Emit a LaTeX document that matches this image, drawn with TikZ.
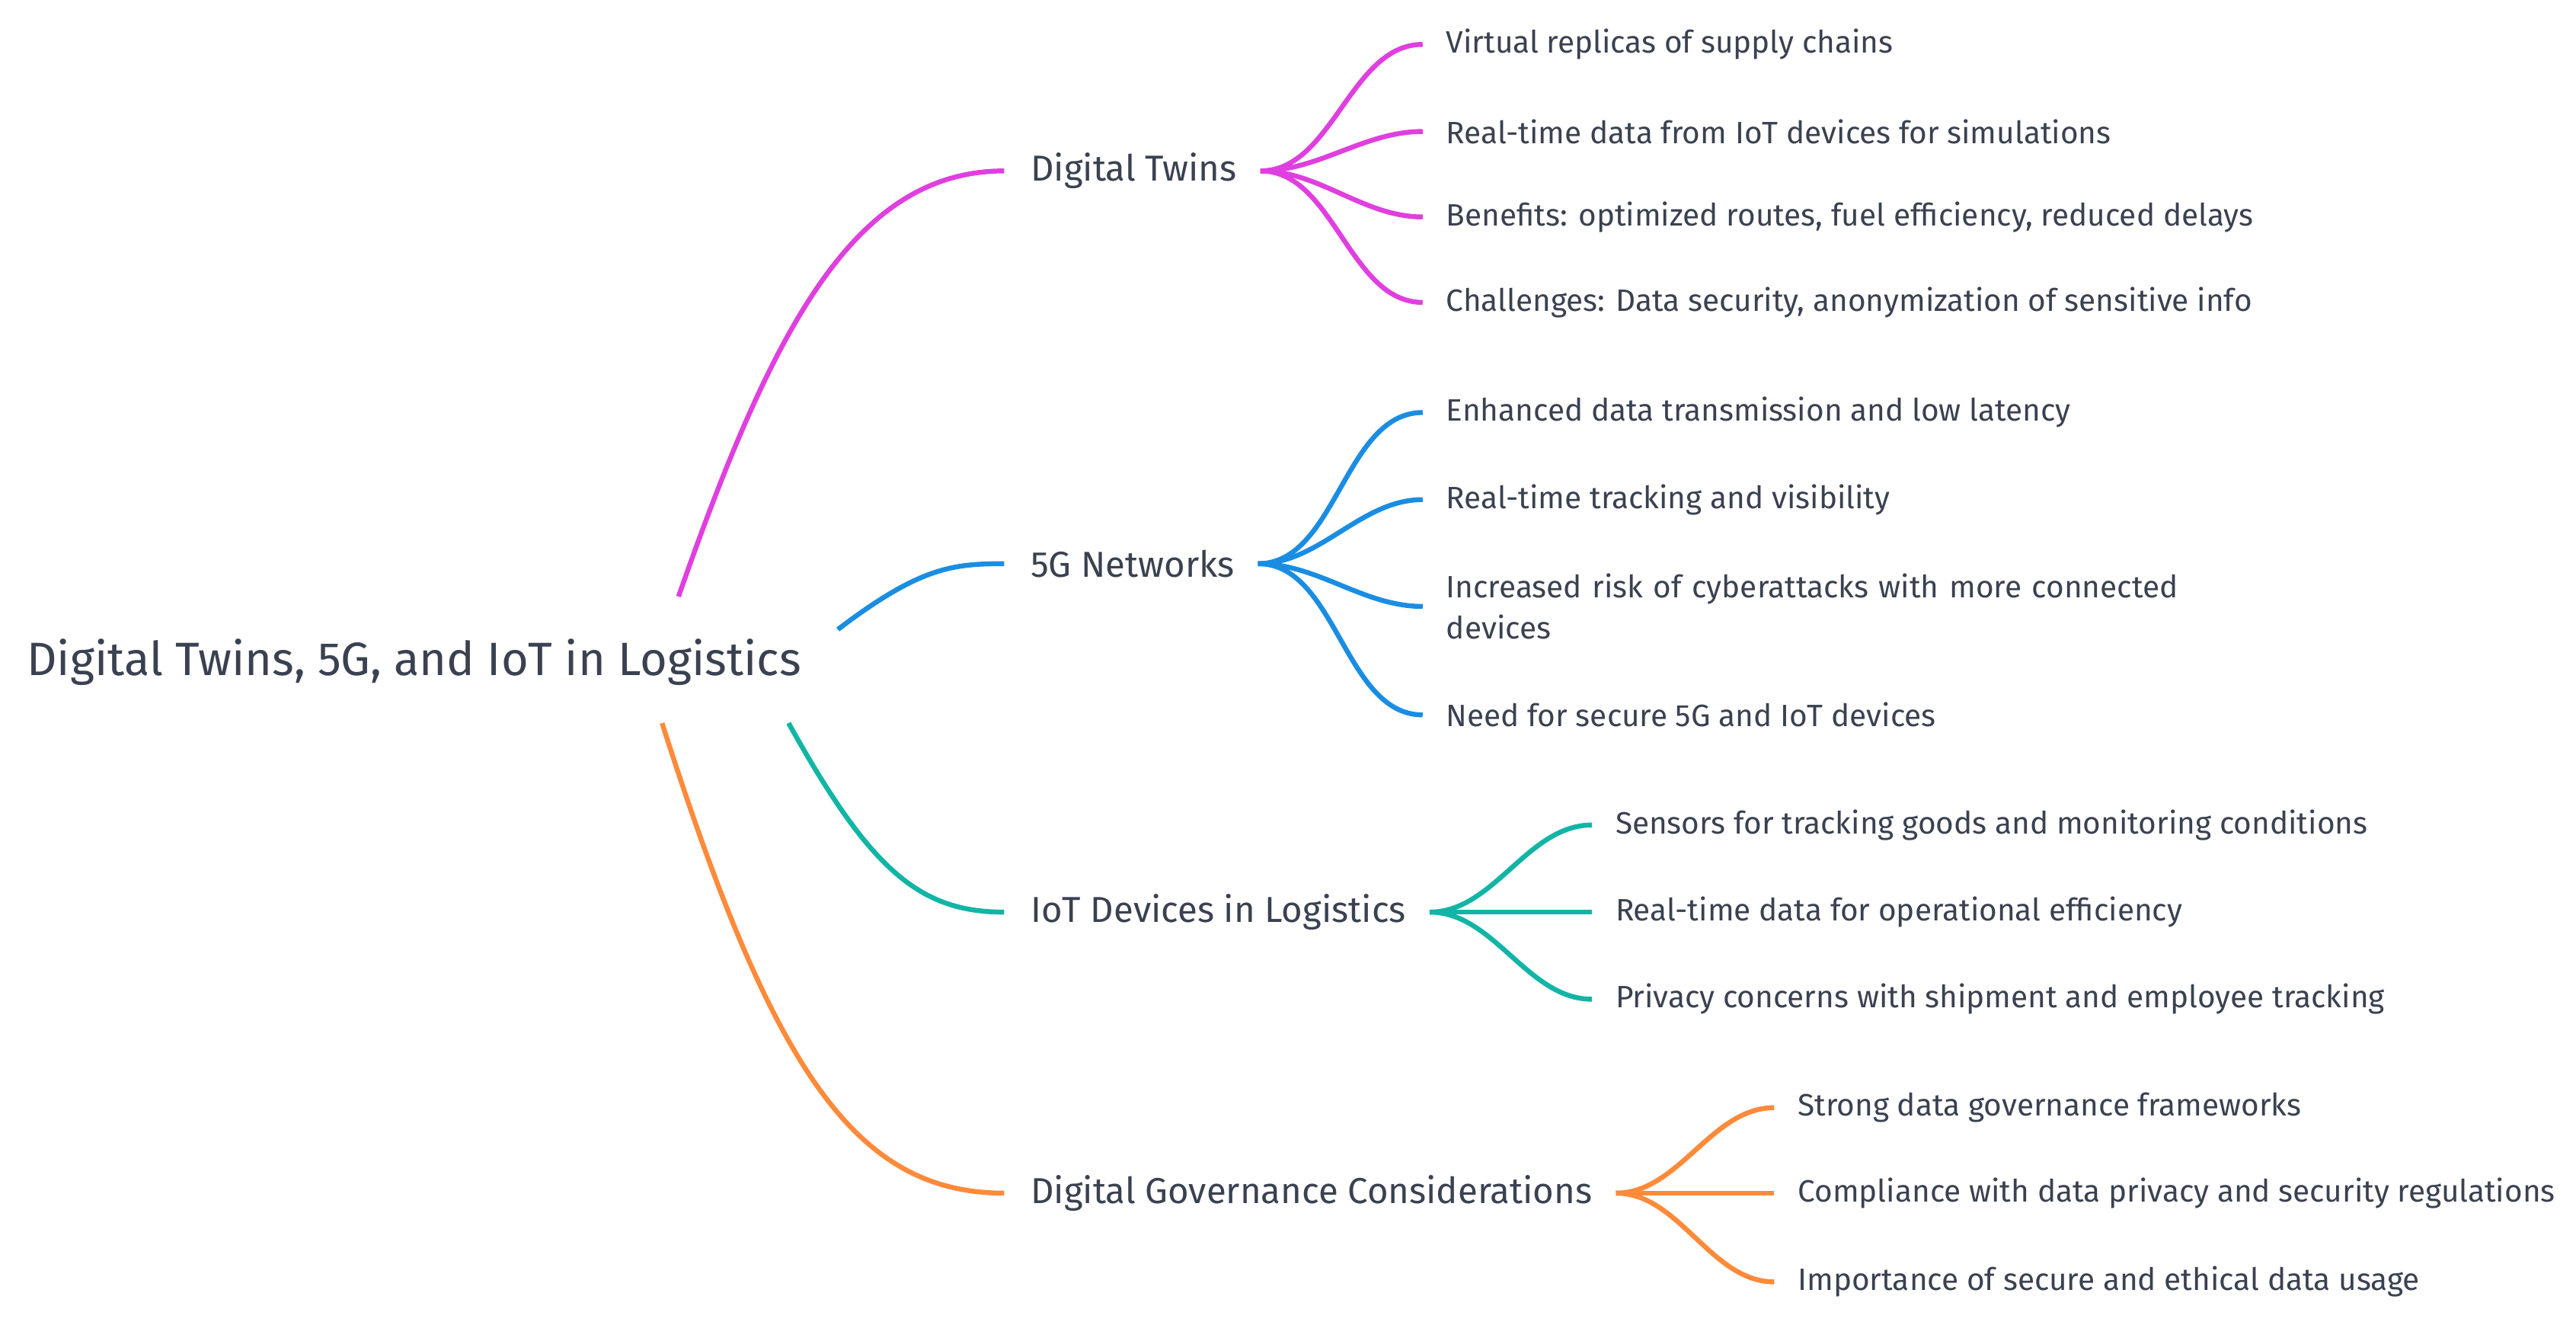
\documentclass[tikz,border=0pt]{standalone}
\usepackage{fontspec}
\setmainfont{Fira Sans}
\usetikzlibrary{positioning}
\definecolor{cTwin}{HTML}{E03FDF}
\definecolor{cNet}{HTML}{1A8DE3}
\definecolor{cIot}{HTML}{12B5A5}
\definecolor{cGov}{HTML}{FF8A3A}
\definecolor{cTxt}{HTML}{3A4150}
\tikzset{
  leaf/.style={anchor=west, inner sep=0pt, text=cTxt, font=\fontsize{10.7}{14}\selectfont, align=left},
  cat/.style={anchor=west, inner sep=0pt, text=cTxt, font=\fontsize{12.5}{15}\selectfont},
  link/.style={line width=1.7pt, out=0, in=180, looseness=0.9}
}
\begin{document}
\begin{tikzpicture}[x=0.02cm, y=-0.02cm]
\useasboundingbox (0,0) rectangle (1568,806);

\node[fill=white, minimum width=10.2cm, minimum height=1.5cm, inner sep=0pt, text=cTxt,
      font=\fontsize{16.2}{19}\selectfont] (root) at (252,403) {Digital Twins, 5G, and IoT in Logistics};

\node[cat] (twin) at (627,104) {Digital Twins};
\node[cat] (net) at (627,343) {5G Networks};
\node[cat] (iot) at (627,555) {IoT Devices in Logistics};
\node[cat] (gov) at (627,726) {Digital Governance Considerations};

\coordinate (sTwin) at (413,363);
\coordinate (sNet) at (510,383);
\coordinate (sIot) at (480,440);
\coordinate (sGov) at (403,440);
\draw[cTwin, line width=1.7pt] (sTwin) .. controls (470,200) and (520,104) .. ([xshift=-9]twin.west);
\draw[cNet, line width=1.7pt] (sNet) .. controls (560,345) and (580,343) .. ([xshift=-9]net.west);
\draw[cIot, line width=1.7pt] (sIot) .. controls (530,530) and (560,555) .. ([xshift=-9]iot.west);
\draw[cGov, line width=1.7pt] (sGov) .. controls (470,650) and (520,726) .. ([xshift=-9]gov.west);

% Digital Twins
\node[leaf] (t1) at (880,27) {Virtual replicas of supply chains};
\node[leaf] (t2) at (880,80) {Real-time data from IoT devices for simulations};
\node[leaf] (t3) at (880,132) {Benefits: optimized routes, fuel efficiency, reduced delays};
\node[leaf] (t4) at (880,184) {Challenges: Data security, anonymization of sensitive info};
\foreach \n in {t1,t2,t3,t4}
  \draw[cTwin, link] ([xshift=8]twin.east) to ([xshift=-8]\n.west);

% 5G
\node[leaf] (n1) at (880,251) {Enhanced data transmission and low latency};
\node[leaf] (n2) at (880,304) {Real-time tracking and visibility};
\node[leaf, text width=9.6cm] (n3) at (880,369) {Increased risk of cyberattacks with more connected\\devices};
\node[leaf] (n4) at (880,435) {Need for secure 5G and IoT devices};
\foreach \n in {n1,n2,n3,n4}
  \draw[cNet, link] ([xshift=8]net.east) to ([xshift=-8]\n.west);

% IoT
\node[leaf] (i1) at (983,502) {Sensors for tracking goods and monitoring conditions};
\node[leaf] (i2) at (983,555) {Real-time data for operational efficiency};
\node[leaf] (i3) at (983,608) {Privacy concerns with shipment and employee tracking};
\foreach \n in {i1,i2,i3}
  \draw[cIot, link] ([xshift=8]iot.east) to ([xshift=-8]\n.west);

% Governance
\node[leaf] (g1) at (1094,674) {Strong data governance frameworks};
\node[leaf] (g2) at (1094,726) {Compliance with data privacy and security regulations};
\node[leaf] (g3) at (1094,780) {Importance of secure and ethical data usage};
\foreach \n in {g1,g2,g3}
  \draw[cGov, link] ([xshift=8]gov.east) to ([xshift=-8]\n.west);

\end{tikzpicture}
\end{document}
